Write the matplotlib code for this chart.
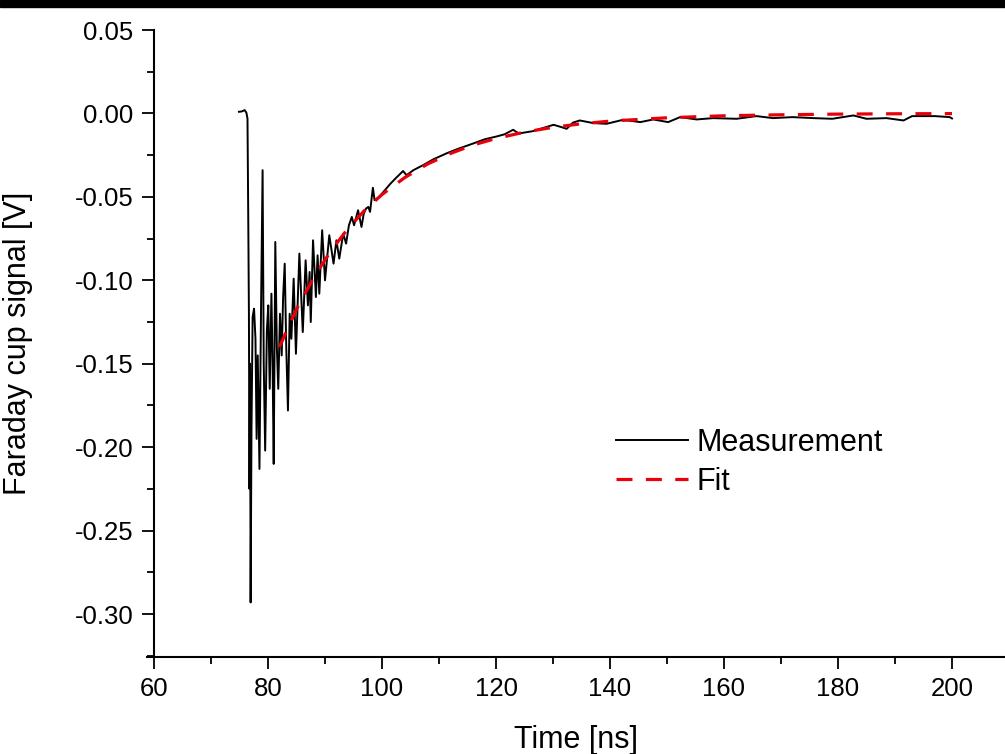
import matplotlib
matplotlib.use("Agg")
import matplotlib.pyplot as plt
from matplotlib.patches import Rectangle
from matplotlib.ticker import MultipleLocator, FormatStrFormatter

plt.rcParams['font.family'] = ['Liberation Sans', 'DejaVu Sans']
plt.rcParams['axes.unicode_minus'] = False

t_meas = [74.9, 75.4, 75.9, 76.2, 76.4, 76.55, 76.65, 76.75, 76.85, 76.95,
          77.1, 77.3, 77.55, 77.8, 78.0, 78.2, 78.5, 78.8, 79.05, 79.25,
          79.5, 79.8, 80.05, 80.3, 80.6, 80.8, 81.0, 81.28, 81.55, 81.8,
          82.1, 82.4, 82.65, 82.93, 83.2, 83.5, 83.8, 84.1, 84.5, 84.9,
          85.5, 86.1, 86.6, 87.0, 87.3, 87.5, 87.9, 88.4, 88.7, 89.0,
          89.5, 90.0, 90.75, 91.5, 92.0, 92.5, 93.2, 93.7, 94.2, 94.7,
          95.1, 95.8, 96.4, 96.8, 97.2, 97.6, 97.9, 98.4, 98.7, 99.5,
          100.5, 101.5, 102.5, 103.7, 104.3, 105.5, 107.2, 109.0, 111.4, 113.5,
          116.0, 118.0, 120.1, 121.5, 123.0, 124.0, 126.5, 128.0, 130.1, 131.3,
          132.4, 133.5, 134.7, 137.1, 139.4, 142.3, 145.3, 147.6, 150.2, 152.3,
          155.2, 158.1, 162.2, 165.7, 168.6, 172.0, 175.7, 179.0, 182.7, 185.0,
          188.5, 191.5, 193.0, 197.0, 199.6, 200.0]
v_meas = [0.0010, 0.0012, 0.0020, 0.0005, -0.0030, -0.0700, -0.1200, -0.2250, -0.1500, -0.2930,
          -0.1900, -0.1220, -0.1170, -0.1350, -0.1950, -0.1450, -0.2130, -0.1100, -0.0340, -0.1500,
          -0.2020, -0.1300, -0.1150, -0.1650, -0.1080, -0.1500, -0.2100, -0.0770, -0.1400, -0.1650,
          -0.1200, -0.1450, -0.1100, -0.0900, -0.1400, -0.1780, -0.1200, -0.1350, -0.0990, -0.1440,
          -0.0840, -0.1310, -0.0880, -0.1150, -0.0950, -0.1250, -0.0760, -0.1100, -0.0850, -0.1080,
          -0.0700, -0.1000, -0.0730, -0.0900, -0.0760, -0.0870, -0.0720, -0.0780, -0.0670, -0.0620,
          -0.0670, -0.0580, -0.0680, -0.0600, -0.0570, -0.0560, -0.0590, -0.0445, -0.0520, -0.0500,
          -0.0460, -0.0420, -0.0385, -0.0345, -0.0370, -0.0340, -0.0310, -0.0275, -0.0238, -0.0210,
          -0.0180, -0.0155, -0.0138, -0.0125, -0.0098, -0.0120, -0.0106, -0.0090, -0.0068, -0.0080,
          -0.0092, -0.0055, -0.0042, -0.0058, -0.0062, -0.0038, -0.0052, -0.0036, -0.0052, -0.0022,
          -0.0036, -0.0028, -0.0032, -0.0016, -0.0028, -0.0022, -0.0028, -0.0032, -0.0012, -0.0032,
          -0.0028, -0.0042, -0.0016, -0.0016, -0.0022, -0.0030]

# fit curve
t_fit = [82, 85, 88, 91, 94, 97, 100, 104, 108, 112, 116, 120,
         125, 130, 135, 140, 150, 160, 170, 180, 190, 200]
v_fit = [-0.1400, -0.1173, -0.0984, -0.0825, -0.0691, -0.0579, -0.0486, -0.0384,
         -0.0303, -0.0240, -0.0189, -0.0150, -0.0112, -0.0083, -0.0062, -0.0046,
         -0.0026, -0.0014, -0.0008, -0.0004, -0.0002, -0.0001]

W, H = 1005, 754
fig = plt.figure(figsize=(W / 100, H / 100), dpi=100)
fig.patches.append(Rectangle((0, 1 - 7 / H), 1, 7 / H, transform=fig.transFigure,
                             color='black', zorder=10))

ax = fig.add_axes([147 / W, 1 - 657 / H, (W - 147) / W, (657 - 30) / H])
ax.plot(t_meas, v_meas, color='black', lw=1.4, label='Measurement')
ax.plot(t_fit, v_fit, color='#e8000b', lw=2.3, dashes=(5, 4.2), label='Fit')

ax.set_xlim(58.77, 209.3)
ax.set_ylim(-0.3257, 0.05)
ax.xaxis.set_major_locator(MultipleLocator(20))
ax.xaxis.set_minor_locator(MultipleLocator(10))
ax.yaxis.set_major_locator(MultipleLocator(0.05))
ax.yaxis.set_minor_locator(MultipleLocator(0.025))
ax.yaxis.set_major_formatter(FormatStrFormatter('%.2f'))

ax.spines['top'].set_visible(False)
ax.spines['right'].set_visible(False)
ax.spines['left'].set_position(('data', 60))
ax.spines['left'].set_bounds(-0.3257, 0.05)
for s in ('left', 'bottom'):
    ax.spines[s].set_linewidth(1.5)

ax.tick_params(which='major', direction='out', length=8.6, width=1.3,
               labelsize=18.5, pad=6)
ax.tick_params(which='minor', direction='out', length=5, width=1.3)
ax.set_xlim(58.77, 209.3)

ax.set_xlabel('Time [ns]', fontsize=22, labelpad=17)
ax.set_ylabel('Faraday cup signal [V]', fontsize=22, labelpad=30)

ax.legend(loc='upper left', bbox_to_anchor=(616 / W, 1 - 428 / H),
          bbox_transform=fig.transFigure, frameon=False, fontsize=22,
          handlelength=2.35, handletextpad=0.28, labelspacing=0.3,
          borderpad=0, borderaxespad=0)

fig.savefig('out.png', dpi=100)
